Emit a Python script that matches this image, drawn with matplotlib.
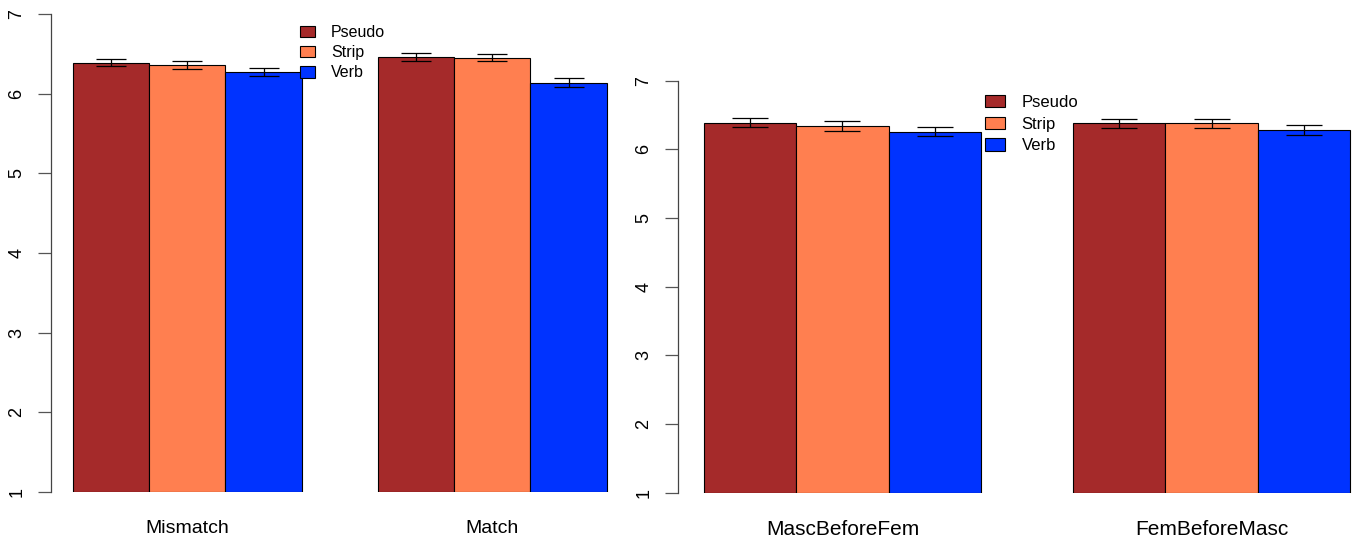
import numpy as np
import matplotlib
matplotlib.use("Agg")
import matplotlib.pyplot as plt
from matplotlib.patches import Patch

plt.rcParams['font.family'] = ['Liberation Sans', 'DejaVu Sans']

series = ['Pseudo', 'Strip', 'Verb']
colors = ['#A52A2A', '#FF7F50', '#0033FF']

# left panel
groups_left = ['Mismatch', 'Match']
means_left = {
    'Pseudo': [6.39, 6.46],
    'Strip': [6.36, 6.45],
    'Verb': [6.27, 6.14],
}
err_left = {
    'Pseudo': [0.046, 0.046],
    'Strip': [0.048, 0.046],
    'Verb': [0.050, 0.052],
}

# right panel
groups_right = ['MascBeforeFem', 'FemBeforeMasc']
means_right = {
    'Pseudo': [6.39, 6.38],
    'Strip': [6.34, 6.38],
    'Verb': [6.26, 6.28],
}
err_right = {
    'Pseudo': [0.066, 0.066],
    'Strip': [0.068, 0.063],
    'Verb': [0.070, 0.070],
}

W, H = 1357, 539
fig = plt.figure(figsize=(W / 100, H / 100), dpi=100)


def px_axes(x0, x1, ytop, ybot):
    return fig.add_axes([x0 / W, (H - ybot) / H, (x1 - x0) / W, (ybot - ytop) / H])


def draw_panel(ax, groups, means, errs, xlim, cap, legend_pos, legend_fs,
               handle_w, spacing, label_fs, label_pad):
    for i, name in enumerate(series):
        # R barplot: one unit gap before each group, 3 bars of width 1
        left = np.arange(len(groups)) * 4 + 1 + i
        vals = np.array(means[name])
        ax.bar(left, vals - 1, bottom=1, width=1, align='edge',
               color=colors[i], edgecolor='black', linewidth=0.8)
        ax.errorbar(left + 0.5, vals, yerr=errs[name], fmt='none',
                    ecolor='black', elinewidth=0.9, capsize=cap, capthick=0.9)
    ax.set_xlim(*xlim)
    ax.set_ylim(1, 7)
    for s in ['top', 'right', 'bottom']:
        ax.spines[s].set_visible(False)
    ax.spines['left'].set_color('#444444')
    ax.spines['left'].set_linewidth(0.9)
    ax.set_yticks(range(1, 8))
    ax.tick_params(axis='y', length=9.5, width=0.9, color='#555555', pad=9,
                   labelsize=13, labelrotation=90)
    for lab in ax.get_yticklabels():
        lab.set_verticalalignment('center')
    ax.set_xticks(np.arange(len(groups)) * 4 + 2.5)
    ax.set_xticklabels(groups, fontsize=label_fs)
    ax.tick_params(axis='x', length=0, pad=label_pad)
    handles = [Patch(facecolor=c, edgecolor='black', linewidth=0.8) for c in colors]
    ax.legend(handles, series, loc='upper left', frameon=False,
              bbox_to_anchor=(legend_pos[0] / W, 1 - legend_pos[1] / H),
              bbox_transform=fig.transFigure, fontsize=legend_fs,
              handlelength=handle_w, handleheight=0.75, handletextpad=1.0,
              labelspacing=spacing, borderaxespad=0, borderpad=0)


ax1 = px_axes(51, 630, 14, 492)
draw_panel(ax1, groups_left, means_left, err_left, (0.7115, 8.305), 11,
           (300, 25), 11.5, 0.95, 0.32, 14, 20.5)

ax2 = px_axes(678, 1357, 80.8, 492.5)
draw_panel(ax2, groups_right, means_right, err_right, (0.718, 8.075), 13,
           (985, 95), 12, 1.2, 0.4, 15, 19.5)

fig.savefig('out.png', dpi=100)
